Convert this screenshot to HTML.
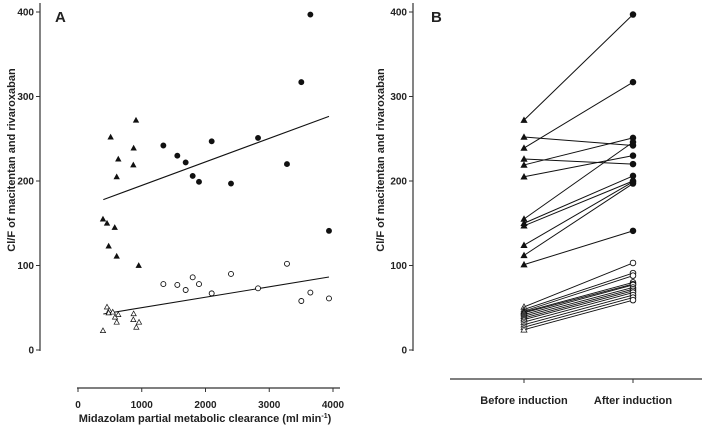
<!DOCTYPE html>
<html><head><meta charset="utf-8"><style>
body{margin:0;background:#fff;width:709px;height:426px;overflow:hidden}
text{font-family:"Liberation Sans",Arial,sans-serif;font-weight:bold;fill:#222}
</style></head><body>
<svg id="c" width="709" height="426"></svg>
<script>
// Panel A data
const filledCircX=[1339,1558,1689,1799,1898,2097,2400,2824,3278,3503,3645,3937];
const filledCircY=[242,230,222,206,199,247,197,251,220,317,397,141];
const openCircX=[1339,1558,1689,1799,1898,2097,2400,2824,3278,3503,3645,3937];
const openCircY=[78,77,71,86,78,67,90,73,102,58,68,61];
const filledTriX=[512,607,632,868,873,910,392,455,576,481,607,952];
const filledTriY=[252,205,226,219,239,272,155,150,145,123,111,100];
const openTriX=[455,490,481,581,632,607,873,868,957,915,392,545];
const openTriY=[51,47,44,39,42,33,43,36,33,27,23,45];
const fitUpper=[[397,178],[3937,276.5]];
const fitLower=[[397,42.6],[3937,86.4]];
const yTicks=[0,100,200,300,400];
const xTicks=[0,1000,2000,3000,4000];
// Panel B data
const beforeHigh=[272,239,252,226,219,205,155,150,147,124,112,101];
const afterHigh=[397,317,242,220,251,230,246,206,200,199,197,141];
const beforeLow=[51,48,46,45,44,42,40,38,36,33,30,27,24];
const afterLow=[103,91,88,80,78,77,74,72,70,68,65,62,59];
const bCats=["Before induction","After induction"];

const NS="http://www.w3.org/2000/svg",svg=document.getElementById('c');
function el(t,a,p){const e=document.createElementNS(NS,t);for(const k in a)e.setAttribute(k,a[k]);(p||svg).appendChild(e);return e;}
const yS=v=>350-v*0.845;
const xA=v=>78+v*0.06375;
const xB=[524,633];
function circ(x,y,filled,g,r){return el('circle',{cx:x,cy:y,r:r||2.5,fill:filled?'#111':'#fff',stroke:'#111','stroke-width':0.9},g);}
function tri(x,y,filled,g,s){s=s||2.6;return el('polygon',{points:`${x},${y-s} ${x-s},${y+s*0.8} ${x+s},${y+s*0.8}`,fill:filled?'#111':'#fff',stroke:'#111','stroke-width':0.7},g);}

// Panel A axes
const gA=el('g',{});


el('line',{x1:40,y1:3,x2:40,y2:351,stroke:'#333','stroke-width':1.2},gA);
yTicks.forEach(v=>{el('line',{x1:36,y1:yS(v),x2:40,y2:yS(v),stroke:'#333'},gA);
 const t=el('text',{x:34,y:yS(v)+3.5,'text-anchor':'end','font-size':10},gA);t.textContent=v;});
el('line',{x1:77,y1:388,x2:340,y2:388,stroke:'#333','stroke-width':1.2},gA);
xTicks.forEach(v=>{el('line',{x1:xA(v),y1:388,x2:xA(v),y2:392,stroke:'#333'},gA);
 const t=el('text',{x:xA(v),y:408,'text-anchor':'middle','font-size':10},gA);t.textContent=v;});
const ytA=el('text',{x:0,y:0,'text-anchor':'middle','font-size':11,transform:'translate(15,160) rotate(-90)'},gA);
ytA.textContent='Cl/F of macitentan and rivaroxaban';

const xtA=el('text',{x:205,y:422,'text-anchor':'middle','font-size':11},gA);
xtA.innerHTML='Midazolam partial metabolic clearance (ml min<tspan font-size="7" dy="-4">-1</tspan><tspan dy="4">)</tspan>';

const lA=el('text',{x:55,y:22,'font-size':15},gA);lA.textContent='A';
[fitUpper,fitLower].forEach(f=>el('line',{x1:xA(f[0][0]),y1:yS(f[0][1]),x2:xA(f[1][0]),y2:yS(f[1][1]),stroke:'#111','stroke-width':1.1},gA));
filledCircX.forEach((x,i)=>circ(xA(x),yS(filledCircY[i]),true,gA));
openCircX.forEach((x,i)=>circ(xA(x),yS(openCircY[i]),false,gA));
filledTriX.forEach((x,i)=>tri(xA(x),yS(filledTriY[i]),true,gA));
openTriX.forEach((x,i)=>tri(xA(x),yS(openTriY[i]),false,gA));

// Panel B
const gB=el('g',{});


el('line',{x1:413,y1:3,x2:413,y2:351,stroke:'#333','stroke-width':1.2},gB);
yTicks.forEach(v=>{el('line',{x1:409,y1:yS(v),x2:413,y2:yS(v),stroke:'#333'},gB);
 const t=el('text',{x:407,y:yS(v)+3.5,'text-anchor':'end','font-size':10},gB);t.textContent=v;});
el('line',{x1:450,y1:379,x2:702,y2:379,stroke:'#333','stroke-width':1.2},gB);
bCats.forEach((c,i)=>{el('line',{x1:xB[i],y1:379,x2:xB[i],y2:383,stroke:'#333'},gB);
 const t=el('text',{x:xB[i],y:404,'text-anchor':'middle','font-size':11},gB);t.textContent=c;});
const ytB=el('text',{x:0,y:0,'text-anchor':'middle','font-size':11,transform:'translate(384,160) rotate(-90)'},gB);
ytB.textContent='Cl/F of macitentan and rivaroxaban';

const lB=el('text',{x:431,y:22,'font-size':15},gB);lB.textContent='B';
beforeHigh.forEach((v,i)=>{el('line',{x1:xB[0],y1:yS(v),x2:xB[1],y2:yS(afterHigh[i]),stroke:'#111','stroke-width':1},gB);});
beforeLow.forEach((v,i)=>{el('line',{x1:xB[0],y1:yS(v),x2:xB[1],y2:yS(afterLow[i]),stroke:'#111','stroke-width':0.9},gB);});
beforeHigh.forEach(v=>tri(xB[0],yS(v),true,gB,3));
afterHigh.forEach(v=>circ(xB[1],yS(v),true,gB,2.8));
beforeLow.forEach(v=>tri(xB[0],yS(v),false,gB,3));
afterLow.forEach(v=>circ(xB[1],yS(v),false,gB,2.8));
</script>
</body></html>
